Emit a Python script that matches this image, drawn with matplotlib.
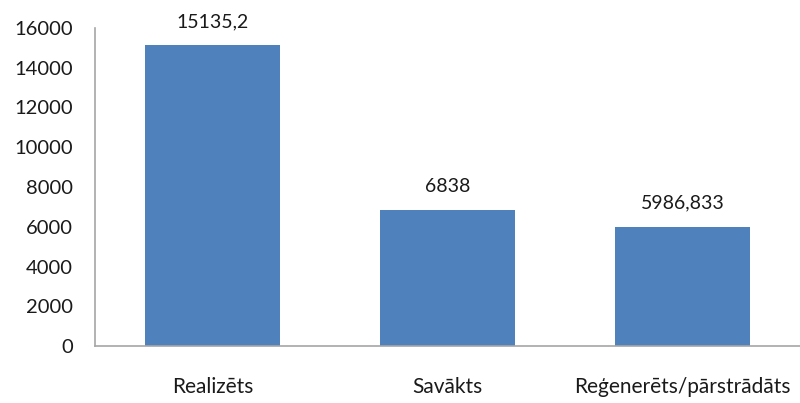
import matplotlib
matplotlib.use("Agg")
import matplotlib.pyplot as plt

categories = ["Realizēts", "Savākts", "Reģenerēts/pārstrādāts"]
values = [15135.2, 6838, 5986.833]
value_labels = ["15135,2", "6838", "5986,833"]
yticks = [0, 2000, 4000, 6000, 8000, 10000, 12000, 14000, 16000]

plt.rcParams['font.family'] = ['Lato', 'DejaVu Sans']

fig = plt.figure(figsize=(8, 4.03), dpi=100)
ax = fig.add_axes([95/800, 1-346/403, 1-95/800, (346-28)/403])

x = list(range(len(categories)))
bars = ax.bar(x, values, width=0.575, color="#4F81BD")
for xi, v, lab in zip(x, values, value_labels):
    ax.annotate(lab, (xi, v), xytext=(0, 11), textcoords="offset points",
                ha="center", va="bottom", fontsize=14, color="#1a1a1a")

ax.set_xlim(-0.5, 2.5)
ax.set_ylim(0, 16000)
ax.set_yticks(yticks)
ax.set_yticklabels([str(t) for t in yticks])
ax.set_xticks(x)
ax.set_xticklabels(categories)
ax.tick_params(axis="both", length=0, colors="#1a1a1a")
ax.tick_params(axis="y", pad=16, labelsize=14.5)
ax.tick_params(axis="x", pad=22, labelsize=15)
for s in ["top", "right"]:
    ax.spines[s].set_visible(False)
for s in ["left", "bottom"]:
    ax.spines[s].set_color("#A6A6A6")
    ax.spines[s].set_linewidth(1.2)

fig.savefig("out.png", dpi=100)
